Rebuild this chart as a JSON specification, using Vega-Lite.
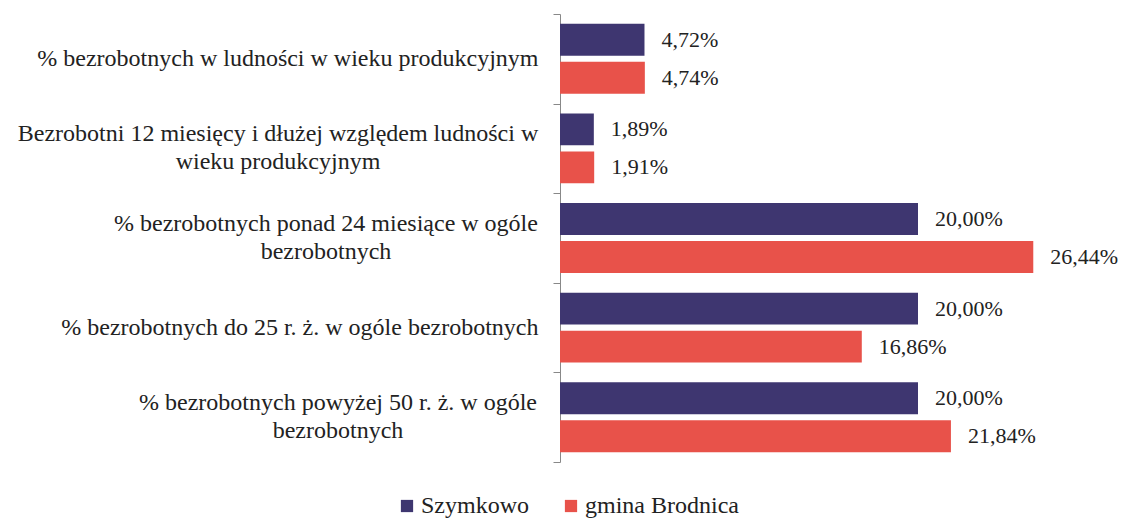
{
  "$schema": "https://vega.github.io/schema/vega-lite/v6.json",
  "width": 537,
  "height": 448,
  "padding": {"left": 17, "top": 2, "right": 5, "bottom": 0},
  "background": "white",
  "data": {
    "values": [
      {"cat": "% bezrobotnych w ludności w wieku produkcyjnym", "series": "Szymkowo", "value": 4.72, "label": "4,72%"},
      {"cat": "% bezrobotnych w ludności w wieku produkcyjnym", "series": "gmina Brodnica", "value": 4.74, "label": "4,74%"},
      {"cat": "Bezrobotni 12 miesięcy i dłużej względem ludności w|wieku produkcyjnym", "series": "Szymkowo", "value": 1.89, "label": "1,89%"},
      {"cat": "Bezrobotni 12 miesięcy i dłużej względem ludności w|wieku produkcyjnym", "series": "gmina Brodnica", "value": 1.91, "label": "1,91%"},
      {"cat": "% bezrobotnych ponad 24 miesiące w ogóle|bezrobotnych", "series": "Szymkowo", "value": 20.0, "label": "20,00%"},
      {"cat": "% bezrobotnych ponad 24 miesiące w ogóle|bezrobotnych", "series": "gmina Brodnica", "value": 26.44, "label": "26,44%"},
      {"cat": "% bezrobotnych do 25 r. ż. w ogóle bezrobotnych", "series": "Szymkowo", "value": 20.0, "label": "20,00%"},
      {"cat": "% bezrobotnych do 25 r. ż. w ogóle bezrobotnych", "series": "gmina Brodnica", "value": 16.86, "label": "16,86%"},
      {"cat": "% bezrobotnych powyżej 50 r. ż. w ogóle|bezrobotnych", "series": "Szymkowo", "value": 20.0, "label": "20,00%"},
      {"cat": "% bezrobotnych powyżej 50 r. ż. w ogóle|bezrobotnych", "series": "gmina Brodnica", "value": 21.84, "label": "21,84%"}
    ]
  },
  "layer": [
    {
      "mark": {"type": "bar"},
      "encoding": {
        "y": {
          "field": "cat",
          "type": "nominal",
          "sort": null,
          "scale": {"paddingInner": 0, "paddingOuter": 0},
          "axis": {
            "title": null,
            "labelExpr": "indexof(datum.label, '|') >= 0 ? '' : datum.label",
            "labelFont": "Liberation Serif",
            "labelFontSize": 24,
            "labelColor": "#222222",
            "labelLimit": 700,
            "labelPadding": 15,
            "tickBand": "extent",
            "tickColor": "#888888",
            "tickSize": 7,
            "domainColor": "#888888"
          }
        },
        "yOffset": {
          "field": "series",
          "type": "nominal",
          "sort": ["Szymkowo", "gmina Brodnica"],
          "scale": {"paddingInner": 0.16, "paddingOuter": 0.26}
        },
        "x": {
          "field": "value",
          "type": "quantitative",
          "scale": {"domain": [0, 30]},
          "axis": null
        },
        "color": {
          "field": "series",
          "type": "nominal",
          "sort": ["Szymkowo", "gmina Brodnica"],
          "scale": {"domain": ["Szymkowo", "gmina Brodnica"], "range": ["#3E3670", "#E8524A"]},
          "legend": {
            "title": null,
            "orient": "none",
            "legendX": -165,
            "legendY": 480,
            "direction": "horizontal",
            "symbolType": "square",
            "symbolSize": 150,
            "labelOffset": 2,
            "labelFont": "Liberation Serif",
            "labelFontSize": 24,
            "labelColor": "#222222",
            "columnPadding": 30
          }
        }
      }
    },
    {
      "mark": {"type": "text", "align": "left", "dx": 17, "font": "Liberation Serif", "fontSize": 22, "color": "#222222"},
      "encoding": {
        "y": {"field": "cat", "type": "nominal", "sort": null},
        "yOffset": {"field": "series", "type": "nominal", "sort": ["Szymkowo", "gmina Brodnica"]},
        "x": {"field": "value", "type": "quantitative"},
        "text": {"field": "label"}
      }
    },
    {
      "transform": [{"filter": "datum.series == 'Szymkowo' && indexof(datum.cat, 'Bezrobotni 12') >= 0"}],
      "mark": {"type": "text", "align": "center", "baseline": "middle", "lineBreak": "|", "lineHeight": 28, "dx": -282, "dy": -14, "font": "Liberation Serif", "fontSize": 24, "color": "#222222"},
      "encoding": {
        "y": {"field": "cat", "type": "nominal", "sort": null},
        "x": {"datum": 0, "type": "quantitative"},
        "text": {"field": "cat"}
      }
    },
    {
      "transform": [{"filter": "datum.series == 'Szymkowo' && indexof(datum.cat, 'ponad 24') >= 0"}],
      "mark": {"type": "text", "align": "center", "baseline": "middle", "lineBreak": "|", "lineHeight": 28, "dx": -234, "dy": -14, "font": "Liberation Serif", "fontSize": 24, "color": "#222222"},
      "encoding": {
        "y": {"field": "cat", "type": "nominal", "sort": null},
        "x": {"datum": 0, "type": "quantitative"},
        "text": {"field": "cat"}
      }
    },
    {
      "transform": [{"filter": "datum.series == 'Szymkowo' && indexof(datum.cat, 'powyżej 50') >= 0"}],
      "mark": {"type": "text", "align": "center", "baseline": "middle", "lineBreak": "|", "lineHeight": 28, "dx": -222, "dy": -14, "font": "Liberation Serif", "fontSize": 24, "color": "#222222"},
      "encoding": {
        "y": {"field": "cat", "type": "nominal", "sort": null},
        "x": {"datum": 0, "type": "quantitative"},
        "text": {"field": "cat"}
      }
    }
  ],
  "config": {"view": {"stroke": null}}
}
